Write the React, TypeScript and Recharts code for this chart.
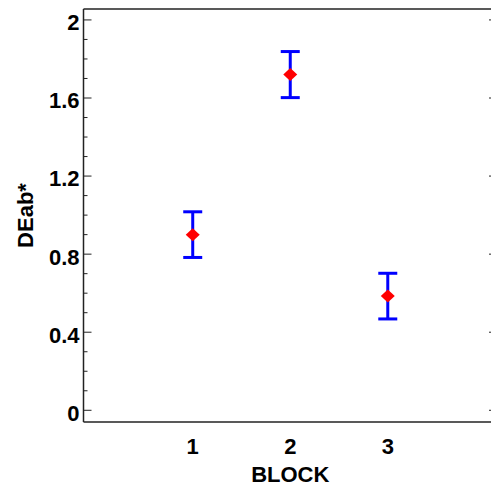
import React from "react";
import { ScatterChart, Scatter, XAxis, YAxis, ErrorBar } from "recharts";

// block number, mean DEab*, error half-width
const blocks = [1, 2, 3];
const deab = [0.9, 1.72, 0.585];
const errs = [0.117, 0.118, 0.117];

const yTicks = [0, 0.1, 0.2, 0.3, 0.4, 0.5, 0.6, 0.7, 0.8, 0.9, 1.0, 1.1, 1.2, 1.3, 1.4, 1.5, 1.6, 1.7, 1.8, 1.9, 2.0];
const yMajor = [0, 0.4, 0.8, 1.2, 1.6, 2];
const xTicks = [1, 2, 3];

const data = blocks.map((b, i) => ({ x: b, y: deab[i], err: errs[i] }));

const font = { fontFamily: "'Liberation Sans', Arial, sans-serif", fontWeight: "bold", fontSize: 22, fill: "#000" };
const axisColor = "#222";

const LeftTick = (props: any) => {
  const { x, y, payload } = props;
  const v = payload.value;
  const major = yMajor.includes(v);
  const ax = x + 4;
  return (
    <g>
      <line x1={ax} x2={ax + (major ? 8 : 4)} y1={y} y2={y} stroke={axisColor} strokeWidth={1} />
      {major && (
        <text x={x} y={y} dy={10.4} textAnchor="end" style={font}>
          {String(v)}
        </text>
      )}
    </g>
  );
};

const RightTick = (props: any) => {
  const { x, y, payload } = props;
  if (!yMajor.includes(payload.value)) return <g />;
  return <line x1={x - 8} x2={x} y1={y} y2={y} stroke={axisColor} strokeWidth={1} />;
};

const Diamond = (props: any) => {
  const { cx, cy } = props;
  return <polygon points={`${cx},${cy - 6.5} ${cx + 7},${cy} ${cx},${cy + 6.5} ${cx - 7},${cy}`} fill="#ff0000" />;
};

export default function App() {
  return (
    <div style={{ position: "absolute", left: 0, top: 0, width: 491, height: 486, overflow: "hidden", background: "#fff" }}>
      <ScatterChart width={500} height={486} margin={{ top: 0, right: 0, bottom: 0, left: 0 }}>
        <XAxis
          xAxisId="bottom"
          type="number"
          dataKey="x"
          domain={[-0.12, 4.12]}
          ticks={xTicks}
          allowDataOverflow
          height={64}
          axisLine={{ stroke: axisColor, strokeWidth: 1.5 }}
          tickLine={false}
          tickSize={0}
          tickMargin={16}
          tick={font}
          label={{ value: "BLOCK", position: "insideBottom", offset: 4, style: font }}
        />
        <XAxis
          xAxisId="top"
          orientation="top"
          type="number"
          domain={[-0.12, 4.12]}
          allowDataOverflow
          height={9}
          axisLine={{ stroke: axisColor, strokeWidth: 1.5 }}
          tickLine={false}
          tick={false}
        />
        <YAxis
          yAxisId="left"
          type="number"
          dataKey="y"
          domain={[-0.06, 2.056]}
          ticks={yTicks}
          interval={0}
          allowDataOverflow
          width={83.5}
          axisLine={{ stroke: axisColor, strokeWidth: 1.5 }}
          tickLine={false}
          tickSize={0}
          tickMargin={4}
          tick={<LeftTick />}
          label={{ value: "DEab*", angle: -90, position: "insideLeft", offset: 25, textAnchor: "middle", style: { ...font, textAnchor: "middle" } }}
        />
        <YAxis
          yAxisId="right"
          orientation="right"
          type="number"
          domain={[-0.06, 2.056]}
          ticks={yTicks}
          interval={0}
          allowDataOverflow
          width={3}
          axisLine={false}
          tickLine={false}
          tickSize={0}
          tickMargin={0}
          tick={<RightTick />}
        />
        <Scatter data={data} xAxisId="bottom" yAxisId="left" shape={<Diamond />} isAnimationActive={false} />
        <Scatter data={data} xAxisId="bottom" yAxisId="left" shape={() => <g />} isAnimationActive={false}>
          <ErrorBar dataKey="err" direction="y" width={9.5} stroke="#0000ff" strokeWidth={3} isAnimationActive={false} />
        </Scatter>
      </ScatterChart>
    </div>
  );
}
